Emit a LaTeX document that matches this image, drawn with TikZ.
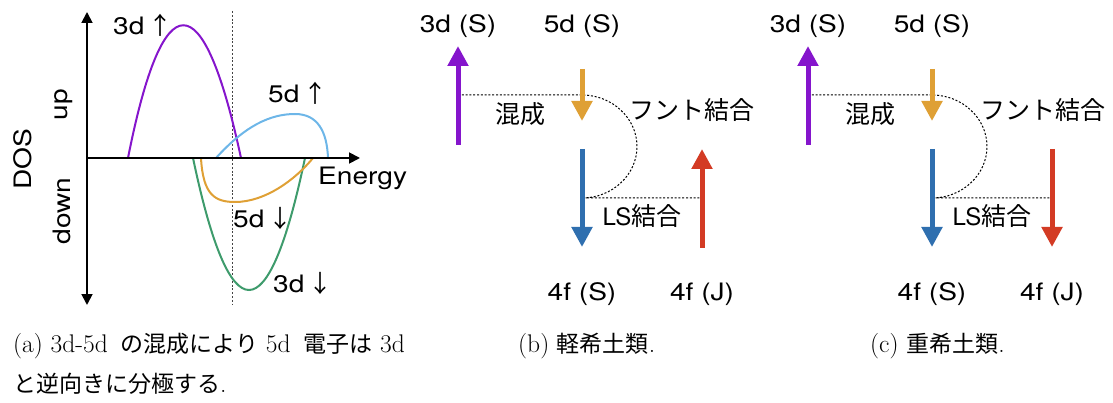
\documentclass[tikz,border=0pt]{standalone}
\usepackage{fontspec}
\usetikzlibrary{arrows.meta}
\newfontfamily\hv[FakeStretch=1.17]{TeX Gyre Heros}
\newfontfamily\hvn{TeX Gyre Heros}
\newfontfamily\jp{Noto Sans CJK JP}
\definecolor{cpurple}{HTML}{8515CC}
\definecolor{corange}{HTML}{DFA035}
\definecolor{cblue}{HTML}{2F6FAF}
\definecolor{cred}{HTML}{D33B24}
\definecolor{cgreen}{HTML}{3E9B6C}
\definecolor{clblue}{HTML}{6DB6E8}
\definecolor{cgray}{HTML}{444444}
\begin{document}
\begin{tikzpicture}[x=1pt,y=-1pt,
  axisline/.style={line width=1.8pt,{Triangle[width=11pt,length=11pt]}-{Triangle[width=11pt,length=11pt]}},
  axisx/.style={line width=1.8pt,-{Triangle[width=11pt,length=11pt]}},
  dotline/.style={line width=1pt,dash pattern=on 2pt off 1.8pt},
  spin/.style={line width=5pt,-{Triangle[width=20pt,length=20pt]}},
  curve/.style={line width=2pt},
  lbl/.style={font=\hv\fontsize{24}{28}\selectfont,inner sep=0pt},
  jlbl/.style={font=\jp\fontsize{25}{28}\selectfont,inner sep=0pt},
  captxt/.style={font=\fontsize{25.5}{28}\selectfont,inner sep=0pt,anchor=base west}]
\useasboundingbox (0,0) rectangle (1113,403);
% ---------- panel (a)
\coordinate (ytop) at (87,12);
\coordinate (ybot) at (87,305);
\coordinate (O) at (87,158);
\coordinate (xend) at (360,158);
\coordinate (fermiT) at (232,11);
\coordinate (fermiB) at (232,305);
\draw[dotline,cgray,line width=0.8pt] (fermiT) -- (fermiB);
\draw[cpurple,curve] (128,158) .. controls (163,-19) and (203,-19) .. (241,158);
\draw[cgreen,curve] (193,158) .. controls (230,334) and (268,334) .. (305,158);
\draw[corange,curve] (201,158) .. controls (203,195) and (215,202) .. (235,202) .. controls (265,202) and (295,180) .. (313,158);
\draw[clblue,curve] (216,158) .. controls (245,126) and (270,114) .. (295,114) .. controls (318,114) and (327,132) .. (328,158);
\draw[axisline] (ybot) -- (ytop);
\draw[axisx] (O) -- (xend);
\node[lbl,anchor=base west] (l3u) at (113,35) {3d\,{\jp ↑}};
\node[lbl,anchor=base west] (l5u) at (268,103) {5d\,{\jp ↑}};
\node[lbl,anchor=base west] (l5d) at (233,228) {5d\,{\jp ↓}};
\node[lbl,anchor=base west] (l3d) at (273,292) {3d\,{\jp ↓}};
\node[lbl,anchor=base west] (len) at (318,185) {Energy};
\node[lbl,rotate=90] (ldos) at (23,159) {DOS};
\node[lbl,rotate=90] (lup) at (64,105) {up};
\node[lbl,rotate=90] (ldown) at (62,211) {down};
% ---------- panel (b)
\coordinate (b3s) at (458,145); \coordinate (b3e) at (458,46);
\coordinate (b5s) at (582,69);  \coordinate (b5e) at (582,121);
\coordinate (b4s) at (582,149); \coordinate (b4e) at (582,247);
\coordinate (bjs) at (702,248); \coordinate (bje) at (702,149);
\coordinate (bh1) at (458,95); \coordinate (bh2) at (582,95);
\coordinate (bh3) at (582,198); \coordinate (bh4) at (702,198);
\draw[dotline] (bh1) -- (bh2) .. controls (612,95) and (637,118) .. (637,146.5) .. controls (637,175) and (612,198) .. (bh3) -- (bh4);
\draw[spin,cpurple] (b3s) -- (b3e);
\draw[spin,corange] (b5s) -- (b5e);
\draw[spin,cblue] (b4s) -- (b4e);
\draw[spin,cred] (bjs) -- (bje);
\node[lbl,anchor=base] (bt3) at (458,33) {3d (S)};
\node[lbl,anchor=base] (bt5) at (582,33) {5d (S)};
\node[lbl,anchor=base] (bt4) at (582,300) {4f (S)};
\node[lbl,anchor=base] (btj) at (702,300) {4f (J)};
\node[jlbl] (bmix) at (520,114) {混成};
\node[jlbl] (bhund) at (692,110) {フント結合};
\node[lbl] (bls) at (642,216) {{\hvn LS}{\jp\fontsize{25}{28}\selectfont 結合}};
% ---------- panel (c)
\coordinate (c3s) at (808,145); \coordinate (c3e) at (808,46);
\coordinate (c5s) at (932,69);  \coordinate (c5e) at (932,121);
\coordinate (c4s) at (932,149); \coordinate (c4e) at (932,247);
\coordinate (cjs) at (1052,149); \coordinate (cje) at (1052,247);
\coordinate (ch1) at (808,95); \coordinate (ch2) at (932,95);
\coordinate (ch3) at (932,198); \coordinate (ch4) at (1052,198);
\draw[dotline] (ch1) -- (ch2) .. controls (962,95) and (987,118) .. (987,146.5) .. controls (987,175) and (962,198) .. (ch3) -- (ch4);
\draw[spin,cpurple] (c3s) -- (c3e);
\draw[spin,corange] (c5s) -- (c5e);
\draw[spin,cblue] (c4s) -- (c4e);
\draw[spin,cred] (cjs) -- (cje);
\node[lbl,anchor=base] (ct3) at (808,33) {3d (S)};
\node[lbl,anchor=base] (ct5) at (932,33) {5d (S)};
\node[lbl,anchor=base] (ct4) at (932,300) {4f (S)};
\node[lbl,anchor=base] (ctj) at (1052,300) {4f (J)};
\node[jlbl] (cmix) at (870,114) {混成};
\node[jlbl] (chund) at (1043,110) {フント結合};
\node[lbl] (cls) at (992,216) {{\hvn LS}{\jp\fontsize{25}{28}\selectfont 結合}};
% ---------- captions
\node[captxt] (capa1) at (13,352) {(a) 3d-5d {\jp\fontsize{23}{28}\selectfont\ の混成により} 5d {\jp\fontsize{23}{28}\selectfont\ 電子は} 3d};
\node[captxt] (capa2) at (13,392) {{\jp\fontsize{23}{28}\selectfont と逆向きに分極する}.};
\node[captxt] (capb) at (518,352) {(b) {\jp\fontsize{23}{28}\selectfont 軽希土類}.};
\node[captxt] (capc) at (870,352) {(c) {\jp\fontsize{23}{28}\selectfont 重希土類}.};
\end{tikzpicture}
\end{document}
